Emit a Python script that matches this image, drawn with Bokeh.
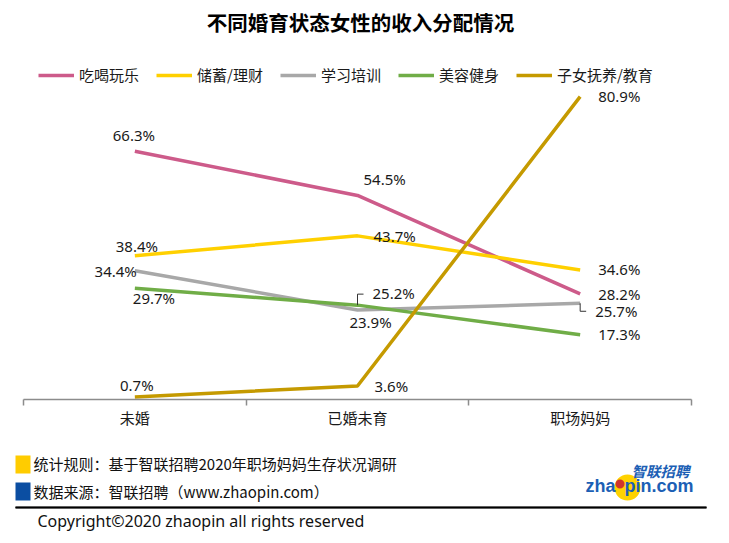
from bokeh.plotting import figure
from bokeh.layouts import column
from bokeh.models import Range1d, FixedTicker, Legend, LegendItem
from bokeh.core.properties import value
from bokeh.embed import file_html
from bokeh.resources import INLINE

# ---------------- data ----------------
categories = ["未婚", "已婚未育", "职场妈妈"]
series_names = ["吃喝玩乐", "储蓄/理财", "学习培训", "美容健身", "子女抚养/教育"]
eat_play = [66.3, 54.5, 28.2]
savings = [38.4, 43.7, 34.6]
learning = [34.4, 23.9, 25.7]
beauty = [29.7, 25.2, 17.3]
children = [0.7, 3.6, 80.9]
all_values = [eat_play, savings, learning, beauty, children]

title_text = "不同婚育状态女性的收入分配情况"
note1 = "统计规则：基于智联招聘2020年职场妈妈生存状况调研"
note2 = "数据来源：智联招聘（www.zhaopin.com）"
copyright_text = "Copyright©2020 zhaopin all rights reserved"

# ---------------- styles ----------------
colors = ["#CD5B8A", "#FFD000", "#A8A8A8", "#70AD47", "#C59A00"]
CJK = "Noto Sans CJK SC"
NUM = "Noto Sans"

# label placement per series/point: (dx px, dy px down, align)
label_place = [
    [(-1, -16, "center"), (6, -16, "left"), (18, 0, "left")],
    [(2, -10, "center"), (16, 0, "left"), (18, -1, "left")],
    [(2, 0, "right"), (13, 12, "center"), (15, 8, "left")],
    [(-2, 10, "left"), (15, -12, "left"), (18, -1, "left")],
    [(2, -12, "center"), (17, 0, "left"), (18, -1, "left")],
]
# leader lines: (series index, point index, dy px of bend, dx px of end)
leaders = [(3, 1, -11, 6), (2, 2, 8, 6)]

W = 729
HEAD_H, MAIN_H, FOOT_H = 40, 410, 93
AX_LEFT, AX_RIGHT = 23, 691          # page px where the category axis starts / ends
BT, BB = 22, 51
Y_MAX = 90


def blank_fig(h, y0):
    f = figure(width=W, height=h, output_backend="svg", toolbar_location=None, tools="",
               x_range=Range1d(0, W), y_range=Range1d(y0 + h, y0),
               x_axis_location=None, y_axis_location=None,
               min_border_left=0, min_border_right=0, min_border_top=0, min_border_bottom=0)
    f.outline_line_color = None
    f.grid.visible = False
    f.border_fill_color = "white"
    f.background_fill_color = "white"
    return f


# ---------------- header ----------------
head = blank_fig(HEAD_H, 0)
head.text(x=[360], y=[21], text=[title_text], text_font=value(CJK), text_font_size="20.5px",
          text_font_style="bold", text_align="center", text_baseline="middle", text_color="#000000")

# ---------------- main chart ----------------
n = len(categories)
px_per_x = (AX_RIGHT - AX_LEFT) / n
frame_h = MAIN_H - BT - BB
px_per_y = frame_h / Y_MAX
x_start = -0.5 - AX_LEFT / px_per_x
x_end = n - 0.5 + (W - AX_RIGHT) / px_per_x

p = figure(width=W, height=MAIN_H, output_backend="svg", toolbar_location=None, tools="",
           x_range=Range1d(x_start, x_end), y_range=Range1d(0, Y_MAX),
           y_axis_location=None, min_border_left=0, min_border_right=0,
           min_border_top=BT, min_border_bottom=BB)
p.outline_line_color = None
p.grid.visible = False
p.background_fill_color = "white"
p.border_fill_color = "white"

xs = list(range(n))
renderers = []
for name, vals, col in zip(series_names, all_values, colors):
    r = p.line(xs, vals, line_color=col, line_width=3.5)
    renderers.append(r)

for si, vals in enumerate(all_values):
    for pi, v in enumerate(vals):
        dx, dy, al = label_place[si][pi]
        p.text(x=[xs[pi]], y=[v], text=[f"{v:.1f}%"], x_offset=dx, y_offset=dy,
               text_align=al, text_baseline="middle", text_font=value(NUM),
               text_font_size="15px", text_color="#1a1a1a")

for si, pi, bend, endx in leaders:
    v = all_values[si][pi]
    x0 = xs[pi]
    yb = v - bend / px_per_y
    p.line([x0, x0, x0 + endx / px_per_x], [v, yb, yb], line_color="#333333", line_width=1)

ax = p.xaxis[0]
ax.bounds = (-0.5, n - 0.5)
ax.ticker = FixedTicker(ticks=xs, minor_ticks=[i - 0.5 for i in range(n + 1)])
ax.major_label_overrides = {i: c for i, c in enumerate(categories)}
ax.axis_line_color = "#8C8C8C"
ax.axis_line_width = 1.5
ax.major_tick_line_color = None
ax.major_tick_out = 0
ax.major_tick_in = 0
ax.minor_tick_line_color = "#8C8C8C"
ax.minor_tick_line_width = 1.5
ax.minor_tick_out = 6
ax.minor_tick_in = 0
ax.major_label_text_font = CJK
ax.major_label_text_font_size = "15px"
ax.major_label_text_color = "#1a1a1a"
ax.major_label_standoff = 1

legend = Legend(items=[LegendItem(label=s, renderers=[r]) for s, r in zip(series_names, renderers)],
                orientation="horizontal", location=(38, 314), padding=0, margin=0,
                spacing=17, glyph_width=36, glyph_height=20, label_height=20,
                label_standoff=5, label_text_font=CJK, label_text_font_size="15px",
                label_text_color="#1a1a1a", border_line_color=None,
                background_fill_alpha=0)
p.add_layout(legend)

# ---------------- footer (page pixel coordinates) ----------------
y0 = HEAD_H + MAIN_H
foot = blank_fig(FOOT_H, y0)
foot.quad(left=[15, 15], right=[30, 30], top=[455, 482], bottom=[473, 500],
          fill_color=["#FFCC00", "#0B4EA2"], line_color=None)
foot.text(x=[33, 33], y=[463, 491], text=[note1, note2], text_font=value(CJK),
          text_font_size="15px", text_baseline="middle", text_color="#111111")
# horizontal rule
foot.segment(x0=[15], y0=[507], x1=[706], y1=[507], line_color="#000000", line_width=2)
foot.quad(left=[15], right=[706], top=[506.2], bottom=[507.8], fill_color="#000000",
          line_color=None)
foot.text(x=[37], y=[520], text=[copyright_text], text_font=value(NUM),
          text_font_size="16px", text_baseline="middle", text_color="#111111")
# logo
foot.circle(x=[627], y=[487], radius=13, fill_color="#FFD200", line_color=None)
foot.circle(x=[619.5], y=[483.5], radius=4.5, fill_color="#D0342C", line_color=None)
foot.text(x=[631], y=[470], text=["智联招聘"], text_font=value(CJK), text_font_size="14.5px",
          text_font_style="bold italic", text_baseline="middle", text_color="#1C5FB5")
foot.text(x=[615], y=[485], text=["zha"], text_font=value("Liberation Sans"), text_font_size="18px",
          text_font_style="bold", text_baseline="middle", text_align="right", text_color="#1C5FB5")
foot.text(x=[624], y=[485], text=["pin.com"], text_font=value("Liberation Sans"), text_font_size="18px",
          text_font_style="bold", text_baseline="middle", text_color="#1C5FB5")

layout = column(head, p, foot, spacing=0)
open("out.html", "w").write(file_html(layout, INLINE))
